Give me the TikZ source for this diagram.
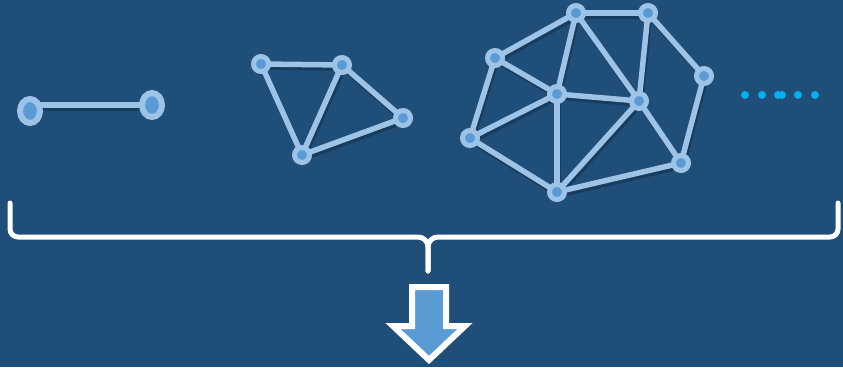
\documentclass[tikz,border=0pt]{standalone}
\usepackage{xcolor}
\usepackage{tikz}
\usetikzlibrary{arrows.meta,shapes.geometric,backgrounds}
\definecolor{deepsea}{HTML}{1F4E79}
\definecolor{skyedge}{HTML}{9DC3E6}
\definecolor{midblue}{HTML}{5B9BD5}
\definecolor{cyandot}{HTML}{00B0F0}
\tikzset{
  gnode/.style={
    circle, draw=skyedge, fill=midblue, line width=5pt,
    minimum size=15pt, inner sep=0pt
  },
  bignode/.style={
    ellipse, draw=skyedge, fill=midblue, line width=6pt,
    minimum width=20pt, minimum height=24pt, inner sep=0pt
  },
  gedge/.style={
    draw=skyedge, line width=5.5pt,
    preaction={draw=black, opacity=0.22, line width=5.5pt,
      transform canvas={shift={(1.5pt,-3pt)}}}
  },
  dotmark/.style={circle, fill=cyandot, minimum size=8pt, inner sep=0pt},
  bracepath/.style={draw=white, line width=5pt, line cap=round,
    rounded corners=8pt},
  downarrow/.style={draw=white, fill=midblue, line width=6pt, line join=miter}
}

\begin{document}
\begin{tikzpicture}[x=1pt, y=-1pt]
\begin{pgfonlayer}{background}
  \fill[deepsea] (0,0) rectangle (843,367);
\end{pgfonlayer}
\useasboundingbox (0,0) rectangle (843,367);

% two nodes
\node[bignode] (p1) at (30,111) {};
\node[bignode] (p2) at (152,105) {};

% four nodes
\node[gnode] (q1) at (261,64) {};
\node[gnode] (q2) at (342,65) {};
\node[gnode] (q3) at (403,118) {};
\node[gnode] (q4) at (302,155) {};

% nine nodes
\node[gnode] (r1) at (576,13) {};
\node[gnode] (r2) at (648,13) {};
\node[gnode] (r3) at (495,58) {};
\node[gnode] (r4) at (704,76) {};
\node[gnode] (r5) at (557,94) {};
\node[gnode] (r6) at (639,101) {};
\node[gnode] (r7) at (470,138) {};
\node[gnode] (r8) at (681,163) {};
\node[gnode] (r9) at (557,192) {};

\begin{pgfonlayer}{background}
  \draw[gedge] (p1.center |- p2.center) -- (p2.center);
  \foreach \a/\b in {q1/q2, q1/q4, q2/q4, q2/q3, q3/q4}
    \draw[gedge] (\a.center) -- (\b.center);
  \foreach \a/\b in {r1/r2, r1/r3, r1/r5, r1/r6, r2/r6, r2/r4, r3/r5, r3/r7,
                     r5/r6, r5/r7, r5/r9, r6/r9, r6/r8, r4/r8, r7/r9, r8/r9}
    \draw[gedge] (\a.center) -- (\b.center);
\end{pgfonlayer}

% and so on
\foreach \x [count=\i] in {745,762,778,782,798,815}
  \node[dotmark] (d\i) at (\x,95) {};

% brace
\coordinate (bl) at (10,203);
\coordinate (br) at (838,203);
\coordinate (tip) at (428,271);
\draw[bracepath] (bl) -- (10,237) -- (410,237)
  .. controls (424,237) and (428,242) .. (428,255) -- (tip);
\draw[bracepath] (br) -- (838,237) -- (446,237)
  .. controls (432,237) and (428,242) .. (428,255) -- (tip);

% arrow
\draw[downarrow] (412,287) -- (446,287) -- (446,326) -- (465,326)
  -- (429,360) -- (393,326) -- (412,326) -- cycle;
\end{tikzpicture}
\end{document}
